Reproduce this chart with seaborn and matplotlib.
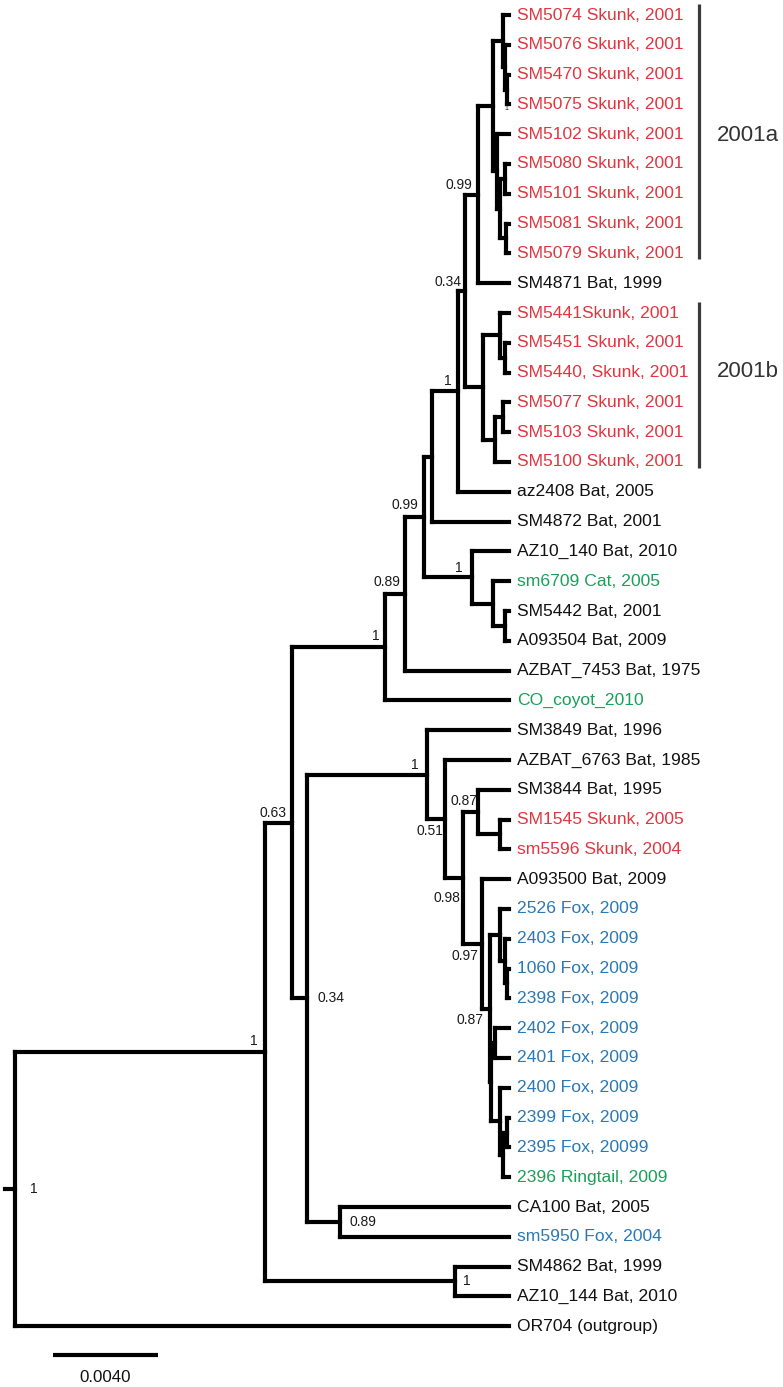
import matplotlib

matplotlib.use("Agg")

import matplotlib.pyplot as plt
import numpy as np
import pandas as pd
import seaborn as sns

# ---- data ---------------------------------------------------------------
leaf_labels = [
    "SM5074 Skunk, 2001", "SM5076 Skunk, 2001", "SM5470 Skunk, 2001",
    "SM5075 Skunk, 2001", "SM5102 Skunk, 2001", "SM5080 Skunk, 2001",
    "SM5101 Skunk, 2001", "SM5081 Skunk, 2001", "SM5079 Skunk, 2001",
    "SM4871 Bat, 1999", "SM5441Skunk, 2001", "SM5451 Skunk, 2001",
    "SM5440, Skunk, 2001", "SM5077 Skunk, 2001", "SM5103 Skunk, 2001",
    "SM5100 Skunk, 2001", "az2408 Bat, 2005", "SM4872 Bat, 2001",
    "AZ10_140 Bat, 2010", "sm6709 Cat, 2005", "SM5442 Bat, 2001",
    "A093504 Bat, 2009", "AZBAT_7453 Bat, 1975", "CO_coyot_2010",
    "SM3849 Bat, 1996", "AZBAT_6763 Bat, 1985", "SM3844 Bat, 1995",
    "SM1545 Skunk, 2005", "sm5596 Skunk, 2004", "A093500 Bat, 2009",
    "2526 Fox, 2009", "2403 Fox, 2009", "1060 Fox, 2009", "2398 Fox, 2009",
    "2402 Fox, 2009", "2401 Fox, 2009", "2400 Fox, 2009", "2399 Fox, 2009",
    "2395 Fox, 20099", "2396 Ringtail, 2009", "CA100 Bat, 2005",
    "sm5950 Fox, 2004", "SM4862 Bat, 1999", "AZ10_144 Bat, 2010",
    "OR704 (outgroup)",
]
leaf_hosts = (
    ["skunk"] * 9 + ["bat"] + ["skunk"] * 6 + ["bat", "bat", "bat", "other", "bat", "bat", "bat", "other"]
    + ["bat", "bat", "bat", "skunk", "skunk", "bat"] + ["fox"] * 9 + ["other", "bat", "fox", "bat", "bat", "bat"]
)
leaf_parents = [
    "Z1", "Z1b", "Z1c", "Z1c", "Z2", "Z3a", "Z3a", "Z3b", "Z3b", "X",
    "Y1", "Y1a", "Y1a", "Y2a", "Y2a", "Y2", "T", "R", "S", "U", "V", "V",
    "P", "C", "E", "F", "H", "I", "I", "J", "L", "L2", "L3", "L3", "N", "N",
    "M", "M3", "M3", "M2", "CAn", "CAn", "Cl1", "Cl1", "root",
]
tip_depth = 0.01882

node_names = [
    "root", "A", "B", "C", "P", "Q", "R", "T", "W", "X", "Z", "Z1", "Z1b", "Z1c",
    "Z2", "Z3", "Z3a", "Z3b", "Y", "Y1", "Y1a", "Y2", "Y2a", "S", "U", "V",
    "D", "E", "F", "G", "H", "I", "J", "K", "L", "L2", "L3", "K2", "N", "M",
    "M2", "M3", "CAn", "Cl1",
]
node_parents = [
    None, "root", "A", "B", "C", "P", "Q", "R", "T", "W", "X", "Z", "Z1", "Z1b",
    "Z", "Z2", "Z3", "Z3", "W", "Y", "Y1", "Y", "Y2", "Q", "S", "U",
    "B", "D", "E", "F", "G", "H", "G", "J", "K", "L", "L2", "K", "K2", "K2",
    "M", "M2", "D", "A",
]
node_depths = [
    0.0, 0.00952, 0.01055, 0.01410, 0.01486, 0.01558, 0.01589, 0.01688, 0.01714,
    0.01764, 0.01821, 0.01859, 0.01867, 0.01874, 0.01836, 0.01848, 0.01867,
    0.01870, 0.01783, 0.01848, 0.01867, 0.01829, 0.01859, 0.01741, 0.01821,
    0.01867, 0.01112, 0.01570, 0.01638, 0.01707, 0.01764, 0.01848, 0.01779,
    0.01810, 0.01848, 0.01867, 0.01874, 0.01813, 0.01829, 0.01848, 0.01859,
    0.01874, 0.01238, 0.01676,
]
node_support = {
    "root": "1", "A": "1", "B": "0.63", "C": "1", "P": "0.89", "Q": "0.99",
    "T": "1", "W": "0.34", "X": "0.99", "S": "1", "E": "1", "F": "0.51",
    "G": "0.98", "H": "0.87", "J": "0.97", "K": "0.87", "D": "0.34",
    "CAn": "0.89", "Cl1": "1", "Z1c": "1",
}
clade_names = ["2001a", "2001b"]
clade_first = [0, 10]
clade_last = [8, 15]
scale_length = 0.004

# ---- layout / style -------------------------------------------------------
PX = 26250.0          # pixels per substitution unit
ROW = 29.8            # pixels per leaf row
host_colors = {"skunk": "#e3353f", "bat": "#111111", "fox": "#2a78b6", "other": "#18a058"}
# (dx px, dy px, ha, va, size)
label_style = {
    "root": (15, 0, "left", "center", 10), "A": (-7, -7, "right", "baseline", 10),
    "B": (-5, -6, "right", "baseline", 10), "C": (-6, -7, "right", "baseline", 10),
    "P": (-5, -8, "right", "baseline", 10), "Q": (-6, -8, "right", "baseline", 10),
    "T": (-6, -6, "right", "baseline", 10), "W": (-3, -5, "right", "baseline", 10),
    "X": (-6, -6, "right", "baseline", 10), "S": (-9, -5, "right", "baseline", 10),
    "E": (-9, -6, "right", "baseline", 10), "F": (-2, 16, "right", "baseline", 10),
    "G": (-3, 24, "right", "baseline", 10), "H": (-1, -7, "right", "baseline", 10),
    "J": (-4, 16, "right", "baseline", 10), "K": (-7, 15, "right", "baseline", 10),
    "D": (11, 0, "left", "center", 10), "CAn": (10, 0, "left", "center", 10),
    "Cl1": (8, 0, "left", "center", 10), "Z1c": (-1, 20, "center", "baseline", 5),
}
clade_text_dy = [0.05, -0.55]   # rows, nudges the clade names

sns.set_theme(style="white")
plt.rcParams["font.family"] = ["Liberation Sans", "DejaVu Sans"]

# ---- tree geometry --------------------------------------------------------
depth = dict(zip(node_names, node_depths))
parent = dict(zip(node_names, node_parents))
children = {n: [] for n in node_names}
for n, p in zip(node_names, node_parents):
    if p is not None:
        children[p].append(("node", n))
for i, p in enumerate(leaf_parents):
    children[p].append(("leaf", i))

ypos = {}


def node_y(name):
    if name not in ypos:
        ys = [c if kind == "leaf" else node_y(c) for kind, c in children[name]]
        ypos[name] = (min(ys) + max(ys)) / 2.0
    return ypos[name]


rows = []
seg = 0
for i, p in enumerate(leaf_parents):
    rows += [(seg, depth[p], i), (seg, tip_depth, i)]
    seg += 1
for n in node_names:
    ys = [c if kind == "leaf" else node_y(c) for kind, c in children[n]]
    rows += [(seg, depth[n], min(ys)), (seg, depth[n], max(ys))]
    seg += 1
    start = depth[parent[n]] if parent[n] is not None else -10 / PX
    rows += [(seg, start, node_y(n)), (seg, depth[n], node_y(n))]
    seg += 1
segments = pd.DataFrame(rows, columns=["seg", "x", "y"])

# ---- plot -----------------------------------------------------------------
fig = plt.figure(figsize=(7.83, 13.87), dpi=100)
ax = fig.add_axes([0, 0, 1, 1])
sns.lineplot(
    data=segments, x="x", y="y", units="seg", estimator=None, sort=False,
    color="black", linewidth=3.0, solid_capstyle="projecting", legend=False, ax=ax,
)

for i, (label, host) in enumerate(zip(leaf_labels, leaf_hosts)):
    ax.annotate(label, (tip_depth, i), xytext=(8 * 0.72, 0), textcoords="offset points",
                ha="left", va="center", fontsize=12.6, color=host_colors[host])

for n, text in node_support.items():
    dx, dy, ha, va, size = label_style[n]
    ax.annotate(text, (depth[n], node_y(n)), xytext=(dx * 0.72, -dy * 0.72),
                textcoords="offset points", ha=ha, va=va, fontsize=size, color="#1a1a1a")

# clade bars
bar_x = (699 - 15) / PX
for name, first, last, tdy in zip(clade_names, clade_first, clade_last, clade_text_dy):
    ax.plot([bar_x, bar_x], [first - 0.37, last + 0.2], color="#3a3a3a", lw=2.3,
            solid_capstyle="butt")
    ax.text(bar_x + 18 / PX, (first + last) / 2.0 + tdy, name, ha="left", va="center",
            fontsize=16, color="#333333")

# scale bar
sb_x0 = (53 - 15) / PX
sb_y = (1355 - 15) / ROW
ax.plot([sb_x0, sb_x0 + scale_length], [sb_y, sb_y], color="black", lw=3.0,
        solid_capstyle="butt")
ax.text(sb_x0 + scale_length / 2, (1378 - 15) / ROW, f"{scale_length:.4f}", ha="center",
        va="center", fontsize=12.2, color="#111111")

ax.set_xlim(-15 / PX, (783 - 15) / PX)
ax.set_ylim((1387 - 15) / ROW, -15 / ROW)
ax.axis("off")

fig.savefig("out.png", dpi=100)
